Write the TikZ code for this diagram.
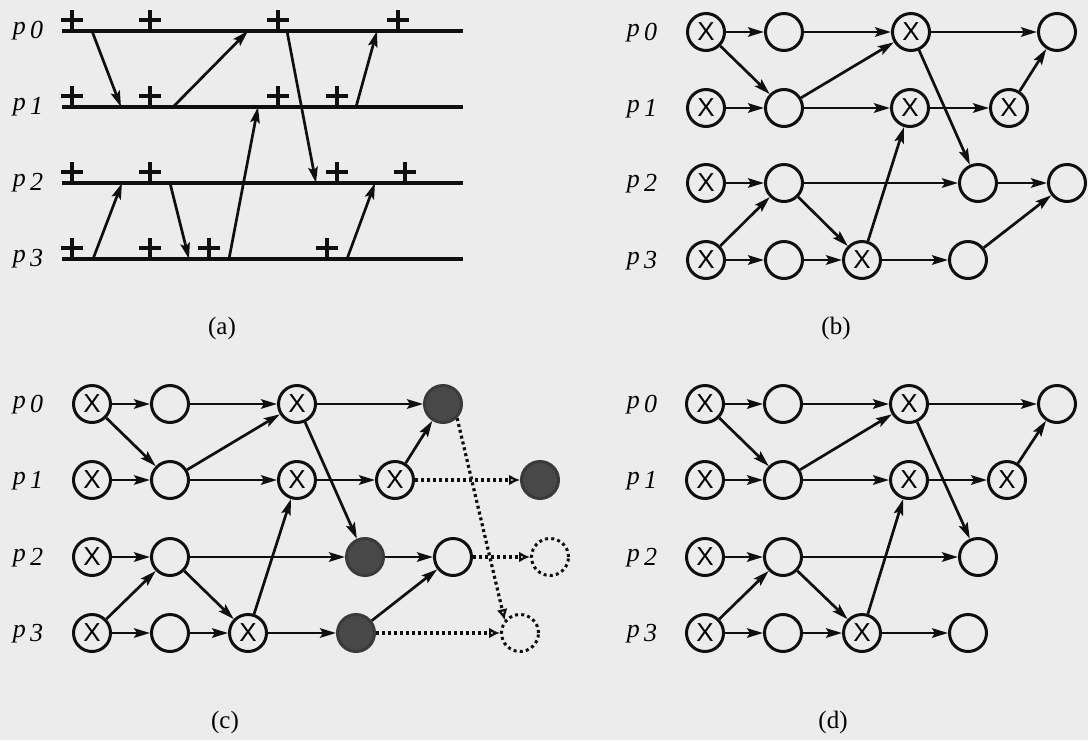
\documentclass[tikz,border=0pt]{standalone}
\usepackage{fontspec}
\setmainfont{Liberation Serif}
\newfontfamily\xfont{Liberation Sans}
\usetikzlibrary{arrows.meta}
\definecolor{paper}{RGB}{236,236,236}
\definecolor{ink}{RGB}{15,15,15}
\definecolor{stipple}{RGB}{72,72,72}
\tikzset{
  nd/.style={circle,draw=ink,line width=3pt,minimum size=37pt,inner sep=0pt},
  xn/.style={nd,font=\xfont\fontsize{26}{26}\selectfont},
  fn/.style={nd,fill=stipple,draw=stipple!80!black},
  dn/.style={nd,draw=ink,dash pattern=on 3pt off 3.2pt},
  ar/.style={draw=ink,line width=2.7pt,-{Stealth[length=16pt,width=9.5pt,inset=3pt]}},
  dar/.style={draw=ink,line width=3.2pt,dash pattern=on 3pt off 3pt,-{Latex[open,length=11pt,width=11pt,line width=2.4pt]}},
  hl/.style={draw=ink,line width=3.6pt},
  pl/.style={draw=ink,line width=3.2pt},
  plab/.style={font=\itshape\fontsize{26}{28}\selectfont,anchor=base,inner sep=0pt},
  subcap/.style={font=\fontsize{25}{27}\selectfont,inner sep=0pt}
}
\newcommand{\plabel}[1]{p\,\raisebox{-4pt}{#1}}
\begin{document}
\begin{tikzpicture}[x=1pt,y=-1pt]
\fill[paper] (0,0) rectangle (1088,740);
\useasboundingbox (0,0) rectangle (1088,740);

% ---------------- (a) ----------------
\foreach \i/\y in {0/31,1/107,2/183,3/259}{
  \node[plab] (al\i) at (28,\y+3) {\plabel{\i}};
  \coordinate (ls\i) at (62,\y);
  \coordinate (le\i) at (463,\y);
  \draw[hl] (ls\i) -- (le\i);
}
% plus marks
\foreach \x/\y in {72/31,150/31,278/31,398/31,
                   72/107,150/107,278/107,337/107,
                   72/183,150/183,337/183,405/183,
                   72/259,150/259,209/259,327/259}{
  \draw[pl] (\x,\y-21) -- (\x,\y);
  \draw[pl] (\x-11,\y-11) -- (\x+11,\y-11);
}
% message endpoints
\coordinate (m1s) at (92,31);  \coordinate (m1e) at (121,107);
\coordinate (m2s) at (173,107);\coordinate (m2e) at (248,31);
\coordinate (m3s) at (287,31); \coordinate (m3e) at (316,183);
\coordinate (m4s) at (356,107);\coordinate (m4e) at (377,31);
\coordinate (m5s) at (93,259); \coordinate (m5e) at (122,183);
\coordinate (m6s) at (170,183);\coordinate (m6e) at (189,259);
\coordinate (m7s) at (229,259);\coordinate (m7e) at (258,107);
\coordinate (m8s) at (347,259);\coordinate (m8e) at (375,183);
\foreach \k in {1,...,8}{\draw[ar] (m\k s) -- (m\k e);}
\node[subcap] (capa) at (222,328) {(a)};

% ---------------- (b) ----------------
\foreach \i/\y in {0/32,1/108,2/183,3/260}{
  \node[plab] (bl\i) at (642,\y+4) {\plabel{\i}};
}
\node[xn] (b00) at (706,32) {X};
\node[nd] (b01) at (784,32) {};
\node[xn] (b02) at (911,32) {X};
\node[nd] (b03) at (1057,32) {};
\node[xn] (b10) at (706,108) {X};
\node[nd] (b11) at (784,108) {};
\node[xn] (b12) at (910,108) {X};
\node[xn] (b13) at (1009,108) {X};
\node[xn] (b20) at (706,183) {X};
\node[nd] (b21) at (784,183) {};
\node[nd] (b22) at (978,183) {};
\node[nd] (b23) at (1067,183) {};
\node[xn] (b30) at (706,260) {X};
\node[nd] (b31) at (784,260) {};
\node[xn] (b32) at (862,260) {X};
\node[nd] (b33) at (968,260) {};
\foreach \a/\b in {b00/b01,b01/b02,b02/b03,b00/b11,b11/b02,b02/b22,
                   b10/b11,b11/b12,b12/b13,b13/b03,
                   b20/b21,b21/b22,b22/b23,
                   b30/b21,b21/b32,b32/b12,b30/b31,b31/b32,b32/b33,b33/b23}{
  \draw[ar] (\a) -- (\b);
}
\node[subcap] (capb) at (836,328) {(b)};

% ---------------- (c) ----------------
\foreach \i/\y in {0/404,1/480,2/557,3/633}{
  \node[plab] (cl\i) at (28,\y+4) {\plabel{\i}};
}
\node[xn] (c00) at (92,404) {X};
\node[nd] (c01) at (170,404) {};
\node[xn] (c02) at (297,404) {X};
\node[fn] (c03) at (443,404) {};
\node[xn] (c10) at (92,480) {X};
\node[nd] (c11) at (170,480) {};
\node[xn] (c12) at (297,480) {X};
\node[xn] (c13) at (395,480) {X};
\node[fn] (c14) at (540,480) {};
\node[xn] (c20) at (92,557) {X};
\node[nd] (c21) at (170,557) {};
\node[fn] (c22) at (365,557) {};
\node[nd] (c23) at (453,557) {};
\node[dn] (c24) at (550,557) {};
\node[xn] (c30) at (92,633) {X};
\node[nd] (c31) at (170,633) {};
\node[xn] (c32) at (248,633) {X};
\node[fn] (c33) at (356,633) {};
\node[dn] (c34) at (520,633) {};
\foreach \a/\b in {c00/c01,c01/c02,c02/c03,c00/c11,c11/c02,c02/c22,
                   c10/c11,c11/c12,c12/c13,c13/c03,
                   c20/c21,c21/c22,c22/c23,
                   c30/c21,c21/c32,c32/c12,c30/c31,c31/c32,c32/c33,c33/c23}{
  \draw[ar] (\a) -- (\b);
}
\draw[dar] (c13) -- (c14);
\draw[dar] (c23) -- (c24);
\draw[dar] (c33) -- (c34);
\draw[dar] (c03.-45) -- (c34.140);
\node[subcap] (capc) at (225,722) {(c)};

% ---------------- (d) ----------------
\foreach \i/\y in {0/404,1/480,2/557,3/633}{
  \node[plab] (dl\i) at (642,\y+4) {\plabel{\i}};
}
\node[xn] (d00) at (705,404) {X};
\node[nd] (d01) at (783,404) {};
\node[xn] (d02) at (909,404) {X};
\node[nd] (d03) at (1057,404) {};
\node[xn] (d10) at (705,480) {X};
\node[nd] (d11) at (783,480) {};
\node[xn] (d12) at (909,480) {X};
\node[xn] (d13) at (1007,480) {X};
\node[xn] (d20) at (705,557) {X};
\node[nd] (d21) at (783,557) {};
\node[nd] (d22) at (978,557) {};
\node[xn] (d30) at (705,633) {X};
\node[nd] (d31) at (783,633) {};
\node[xn] (d32) at (862,633) {X};
\node[nd] (d33) at (968,633) {};
\foreach \a/\b in {d00/d01,d01/d02,d02/d03,d00/d11,d11/d02,d02/d22,
                   d10/d11,d11/d12,d12/d13,d13/d03,
                   d20/d21,d21/d22,
                   d30/d21,d21/d32,d32/d12,d30/d31,d31/d32,d32/d33}{
  \draw[ar] (\a) -- (\b);
}
\node[subcap] (capd) at (833,722) {(d)};
\end{tikzpicture}
\end{document}
